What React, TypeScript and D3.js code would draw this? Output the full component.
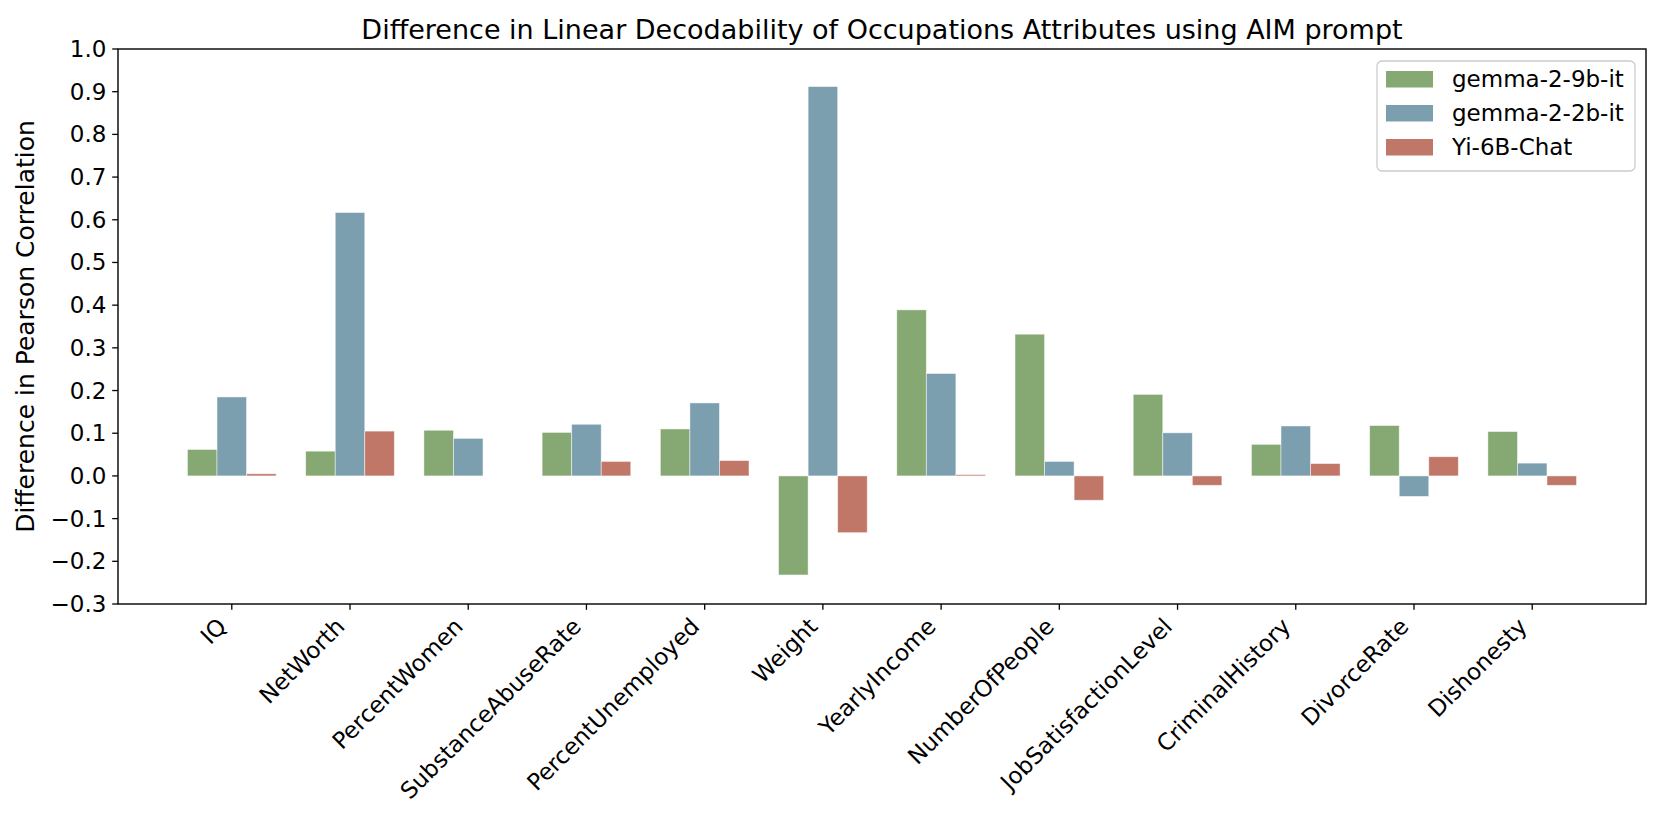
import { scaleLinear, range } from "d3";
import { FC } from "react";

const categories = [
  "IQ",
  "NetWorth",
  "PercentWomen",
  "SubstanceAbuseRate",
  "PercentUnemployed",
  "Weight",
  "YearlyIncome",
  "NumberOfPeople",
  "JobSatisfactionLevel",
  "CriminalHistory",
  "DivorceRate",
  "Dishonesty",
];

const seriesNames = ["gemma-2-9b-it", "gemma-2-2b-it", "Yi-6B-Chat"];
const seriesColors = ["#86a872", "#7c9fb0", "#c07768"];

const gemma9b = [0.062, 0.058, 0.107, 0.102, 0.11, -0.232, 0.389, 0.332, 0.191, 0.074, 0.118, 0.104];
const gemma2b = [0.185, 0.617, 0.088, 0.121, 0.171, 0.912, 0.24, 0.034, 0.101, 0.117, -0.048, 0.03];
const yi6b = [0.005, 0.105, 0, 0.034, 0.036, -0.133, 0.003, -0.057, -0.022, 0.029, 0.045, -0.022];

const yTicks = range(-3, 11).map((i) => i / 10);

const W = 1660;
const H = 823;
const left = 118;
const right = 1646;
const top = 49;
const bottom = 604;
const barW = 0.25;
const font = "'DejaVu Sans', sans-serif";

const fmt = (v: number) => (v < 0 ? "\u2212" + Math.abs(v).toFixed(1) : v.toFixed(1));

const App: FC = () => {
  const series = [gemma9b, gemma2b, yi6b];

  // matplotlib-style x limits with 5% margins
  const lo = -barW * 1.5;
  const hi = categories.length - 1 + barW * 1.5;
  const m = (hi - lo) * 0.05;
  const x = scaleLinear().domain([lo - m, hi + m]).range([left, right]);
  const y = scaleLinear().domain([-0.3, 1.0]).range([bottom, top]);

  const fs = 23;
  const tickLen = 5.8;
  const pad = 5.8;

  // legend
  const lgLeft = 1377;
  const lgTop = 61;
  const lgW = 258;
  const rowH = 34;

  return (
    <svg
      width={W}
      height={H}
      style={{ position: "absolute", left: 0, top: 0, background: "#fff" }}
      fontFamily={font}
    >
      {/* bars */}
      {series.map((vals, si) =>
        vals.map((v, i) => {
          const cx = i + (si - 1) * barW;
          const x0 = x(cx - barW / 2);
          const x1 = x(cx + barW / 2);
          const y0 = y(Math.max(0, v));
          const y1 = y(Math.min(0, v));
          return (
            <rect
              key={`${si}-${i}`}
              x={x0}
              y={y0}
              width={x1 - x0}
              height={y1 - y0}
              fill={seriesColors[si]}
              stroke="#ffffff"
              strokeOpacity={0.6}
              strokeWidth={0.8}
            />
          );
        })
      )}

      {/* frame */}
      <rect
        x={left}
        y={top}
        width={right - left}
        height={bottom - top}
        fill="none"
        stroke="#000"
        strokeWidth={1.4}
      />

      {/* y ticks */}
      {yTicks.map((t) => (
        <g key={t}>
          <line x1={left - tickLen} x2={left} y1={y(t)} y2={y(t)} stroke="#000" strokeWidth={1.3} />
          <text
            x={left - tickLen - pad}
            y={y(t)}
            textAnchor="end"
            dominantBaseline="central"
            fontSize={fs}
          >
            {fmt(t)}
          </text>
        </g>
      ))}

      {/* x ticks */}
      {categories.map((c, i) => {
        const tx = x(i);
        const ax = tx - 0.707 * 0.24 * fs;
        const ay = bottom + tickLen + pad + 0.707 * 0.76 * fs;
        return (
          <g key={c}>
            <line x1={tx} x2={tx} y1={bottom} y2={bottom + tickLen} stroke="#000" strokeWidth={1.3} />
            <text
              x={ax}
              y={ay}
              textAnchor="end"
              fontSize={fs}
              transform={`rotate(-45 ${ax} ${ay})`}
            >
              {c}
            </text>
          </g>
        );
      })}

      {/* title */}
      <text x={(left + right) / 2} y={top - 10} textAnchor="middle" fontSize={27}>
        Difference in Linear Decodability of Occupations Attributes using AIM prompt
      </text>

      {/* y label */}
      <text
        transform={`translate(34 ${(top + bottom) / 2}) rotate(-90)`}
        textAnchor="middle"
        fontSize={25}
      >
        Difference in Pearson Correlation
      </text>

      {/* legend */}
      <rect
        x={lgLeft}
        y={lgTop}
        width={lgW}
        height={rowH * 3 + 8}
        rx={5}
        fill="#fff"
        fillOpacity={0.8}
        stroke="#cccccc"
        strokeWidth={1.3}
      />
      {seriesNames.map((name, si) => {
        const cy = lgTop + 18 + si * rowH;
        return (
          <g key={name}>
            <rect x={lgLeft + 9} y={cy - 8} width={47} height={16.5} fill={seriesColors[si]} />
            <text x={lgLeft + 75} y={cy} dominantBaseline="central" fontSize={fs}>
              {name}
            </text>
          </g>
        );
      })}
    </svg>
  );
};

export default App;
